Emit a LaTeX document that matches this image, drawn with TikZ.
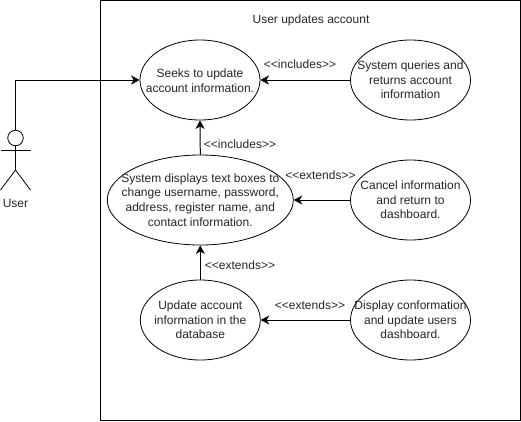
\documentclass[tikz,border=0pt]{standalone}
\usepackage{fontspec}
\setmainfont{Liberation Sans}
\usetikzlibrary{shapes.geometric,arrows.meta}
\tikzset{
  x=1pt,y=-1pt,
  every node/.style={text=black!85},
  txt/.style={inner sep=0pt,align=center,font=\fontsize{12}{14.6}\selectfont},
  small/.style={inner sep=0pt,font=\fontsize{12}{14}\selectfont},
  uc/.style={ellipse,draw=black,line width=0.8pt,fill=white,inner sep=0pt,minimum width=120pt,minimum height=80pt},
  link/.style={draw=black,line width=1pt,-{Stealth[length=8.5pt,width=9pt,inset=2.5pt]}},
  stick/.style={draw=black,line width=0.8pt}
}
\begin{document}
\begin{tikzpicture}
\useasboundingbox (0,0) rectangle (521,421);
\node[draw=black,line width=1pt,minimum width=420pt,minimum height=420pt,inner sep=0pt] (frame) at (310.5,210.5) {};
\node[txt] (title) at (311,20) {User updates account};

\node[uc] (seek) at (200,80) {};
\node[txt] (seekt) at ([yshift=-0.5pt]seek.center) {Seeks to update\\account information.};
\node[uc] (query) at (410.5,80) {};
\node[txt] (queryt) at (query) {System queries and\\returns account\\information};
\node[uc,minimum width=186pt,minimum height=90pt] (boxes) at (200.3,200) {};
\node[txt] (boxest) at (boxes) {System displays text boxes to\\change username, password,\\address, register name, and\\contact information.};
\node[uc] (cancel) at (410.5,200) {};
\node[txt] (cancelt) at (cancel) {Cancel information\\and return to\\dashboard.};
\node[uc] (update) at (200.3,320) {};
\node[txt] (updatet) at (update) {Update account\\information in the\\database};
\node[uc] (display) at (410.5,320) {};
\node[txt] (displayt) at (display) {Display conformation\\and update users\\dashboard.};

% actor
\node[circle,draw=black,line width=0.8pt,fill=white,inner sep=0pt,minimum size=15.5pt] (head) at (15.5,138) {};
\coordinate (hip) at (15.5,170);
\coordinate (armL) at (0.5,150);
\coordinate (armR) at (30.5,150);
\coordinate (footL) at (0.5,190);
\coordinate (footR) at (30.5,190);
\draw[stick] (head.south) -- (hip);
\draw[stick] (armL) -- (armR);
\draw[stick] (footL) -- (hip) -- (footR);
\node[txt] (user) at (15.5,203.5) {User};

\draw[link] (head.north) |- (seek.west);
\draw[link] (query.west) -- (seek.east);
\draw[link] (boxes.north) -- (seek.south);
\draw[link] (cancel.west) -- (boxes.east);
\draw[link] (update.north) -- (boxes.south);
\draw[link] (display.west) -- (update.east);

\node[small] (l1) at (300,64) {<{}<includes>{}>};
\node[small] (l2) at (240,144.5) {<{}<includes>{}>};
\node[small] (l3) at (320.5,175) {<{}<extends>{}>};
\node[small] (l4) at (240,265) {<{}<extends>{}>};
\node[small] (l5) at (310,305) {<{}<extends>{}>};
\end{tikzpicture}
\end{document}
